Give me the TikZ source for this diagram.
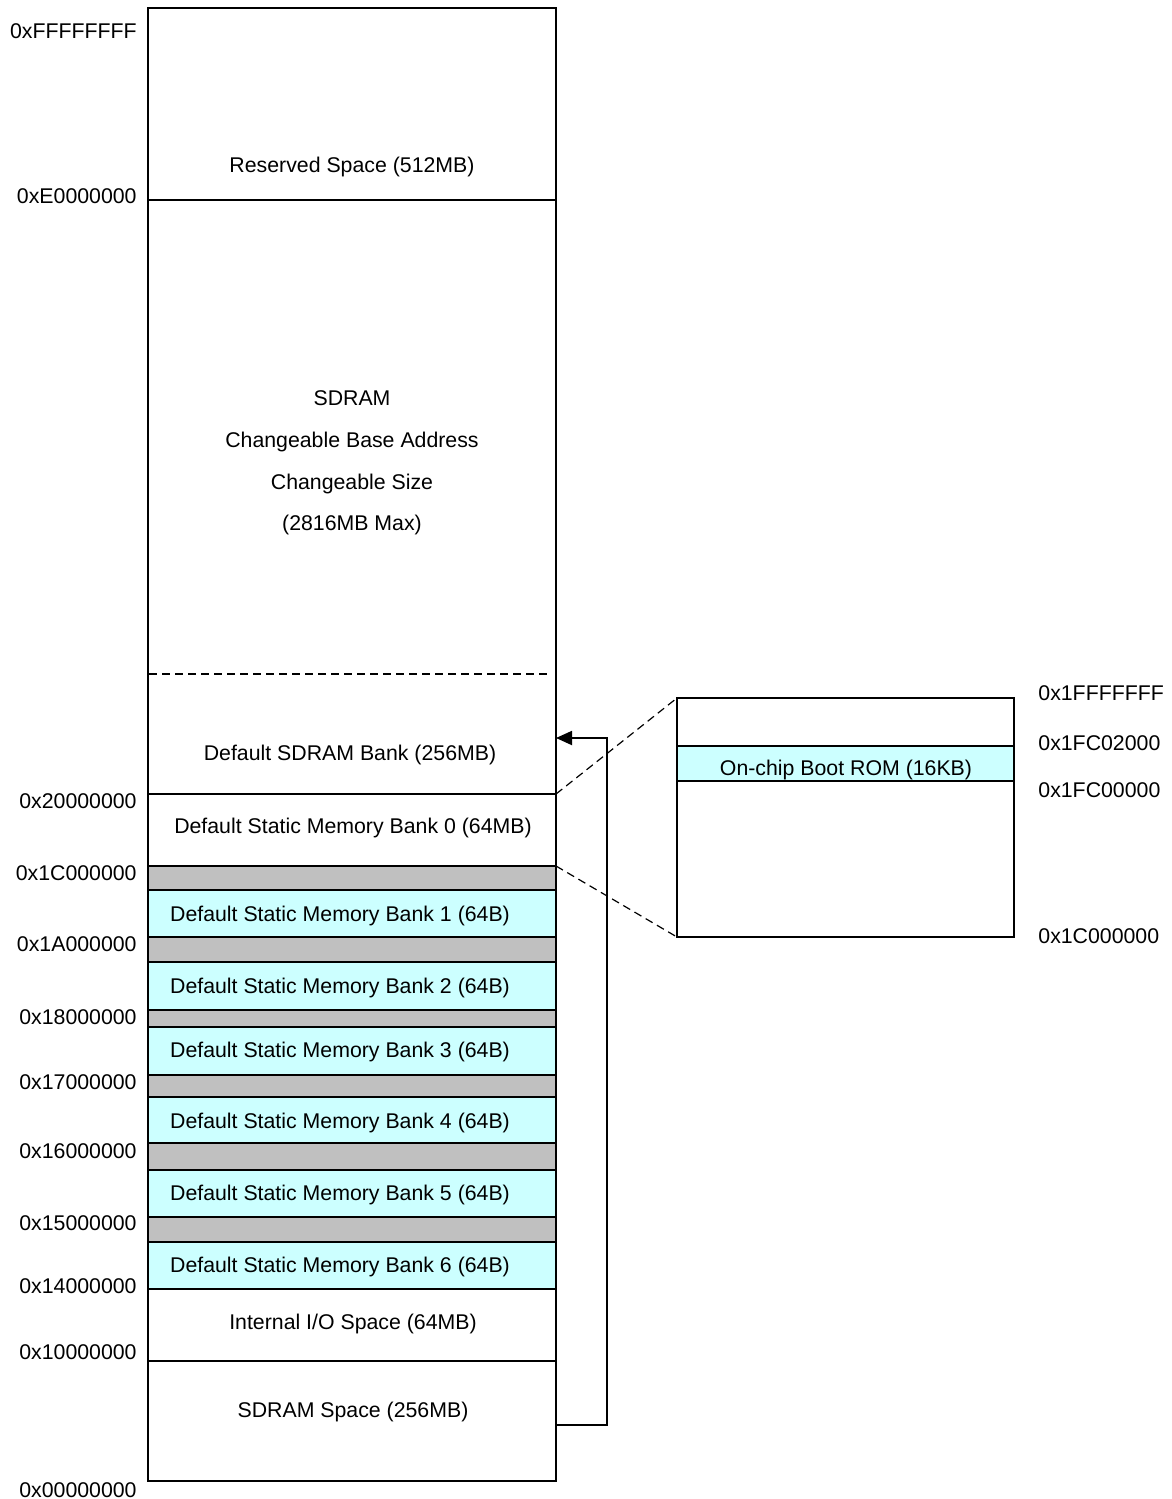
\documentclass[tikz,border=0pt]{standalone}
\usepackage{fontspec}
\setmainfont{Liberation Sans}
\usetikzlibrary{fit,arrows.meta}
\definecolor{bankcyan}{HTML}{CCFFFF}
\definecolor{gapgray}{HTML}{C0C0C0}
\begin{document}
\begin{tikzpicture}[x=0.5pt,y=-0.5pt,
  every node/.style={font=\fontsize{10.65}{12}\selectfont},
  region/.style={draw=black, line width=0.9pt, inner sep=0pt, outer sep=0pt},
  cyanreg/.style={region, fill=bankcyan},
  grayreg/.style={region, fill=gapgray},
  txt/.style={anchor=base, yshift=-3.8pt, inner sep=0pt},
  laddr/.style={anchor=base east, yshift=-3.8pt, inner sep=0pt},
  raddr/.style={anchor=base west, yshift=-3.8pt, inner sep=0pt},
  dsh/.style={dash pattern=on 4pt off 2.5pt, line width=0.6pt}]
\useasboundingbox (0,0) rectangle (1172,1499);
% main column regions
\node[region, fit={(148,8)(556,200)}] (reserved) {};
\node[region, fit={(148,200)(556,794)}] (sdram) {};
\node[region, fit={(148,794)(556,866)}] (bank0) {};
\node[grayreg, fit={(148,866)(556,890)}] (g1) {};
\node[cyanreg, fit={(148,890)(556,937)}] (bank1) {};
\node[grayreg, fit={(148,937)(556,962)}] (g2) {};
\node[cyanreg, fit={(148,962)(556,1010)}] (bank2) {};
\node[grayreg, fit={(148,1010)(556,1027)}] (g3) {};
\node[cyanreg, fit={(148,1027)(556,1075)}] (bank3) {};
\node[grayreg, fit={(148,1075)(556,1097)}] (g4) {};
\node[cyanreg, fit={(148,1097)(556,1143)}] (bank4) {};
\node[grayreg, fit={(148,1143)(556,1170)}] (g5) {};
\node[cyanreg, fit={(148,1170)(556,1217)}] (bank5) {};
\node[grayreg, fit={(148,1217)(556,1242)}] (g6) {};
\node[cyanreg, fit={(148,1242)(556,1289)}] (bank6) {};
\node[region, fit={(148,1289)(556,1361)}] (io) {};
\node[region, fit={(148,1361)(556,1481)}] (sdramsp) {};
% dashed separator inside SDRAM
\coordinate (dl) at (149,674);
\coordinate (dr) at (549,674);
\draw[dsh] (dl) -- (dr);
% texts
\node[txt] (treserved) at (352,165) {Reserved Space (512MB)};
\node[txt] (ts1) at (352,398) {SDRAM};
\node[txt] (ts2) at (352,440) {Changeable Base Address};
\node[txt] (ts3) at (352,482) {Changeable Size};
\node[txt] (ts4) at (352,523) {(2816MB Max)};
\node[txt] (tdef) at (350,753) {Default SDRAM Bank (256MB)};
\node[txt] (tb0) at (353,826) {Default Static Memory Bank 0 (64MB)};
\node[txt] (tb1) at (340,914) {Default Static Memory Bank 1 (64B)};
\node[txt] (tb2) at (340,986) {Default Static Memory Bank 2 (64B)};
\node[txt] (tb3) at (340,1050) {Default Static Memory Bank 3 (64B)};
\node[txt] (tb4) at (340,1121) {Default Static Memory Bank 4 (64B)};
\node[txt] (tb5) at (340,1193) {Default Static Memory Bank 5 (64B)};
\node[txt] (tb6) at (340,1265) {Default Static Memory Bank 6 (64B)};
\node[txt] (tio) at (353,1322) {Internal I/O Space (64MB)};
\node[txt] (tsp) at (353,1410) {SDRAM Space (256MB)};
% left addresses
\node[laddr] (a1) at (137,31) {0xFFFFFFFF};
\node[laddr] (a2) at (137,196) {0xE0000000};
\node[laddr] (a3) at (137,801) {0x20000000};
\node[laddr] (a4) at (137,873) {0x1C000000};
\node[laddr] (a5) at (137,944) {0x1A000000};
\node[laddr] (a6) at (137,1017) {0x18000000};
\node[laddr] (a7) at (137,1082) {0x17000000};
\node[laddr] (a8) at (137,1151) {0x16000000};
\node[laddr] (a9) at (137,1223) {0x15000000};
\node[laddr] (a10) at (137,1286) {0x14000000};
\node[laddr] (a11) at (137,1352) {0x10000000};
\node[laddr] (a12) at (137,1490) {0x00000000};
% zoom box on the right
\node[region, fit={(677,698)(1014,937)}] (zoombox) {};
\node[cyanreg, fit={(677,746)(1014,781)}] (rom) {};
\node[txt] (trom) at (846,768) {On-chip Boot ROM (16KB)};
\node[raddr] (r1) at (1038,693) {0x1FFFFFFF};
\node[raddr] (r2) at (1038,743) {0x1FC02000};
\node[raddr] (r3) at (1038,790) {0x1FC00000};
\node[raddr] (r4) at (1038,936) {0x1C000000};
% dashed zoom lines
\draw[dsh] (bank0.north east) -- (zoombox.north west);
\draw[dsh] (bank0.south east) -- (zoombox.south west);
% arrow from SDRAM space to default SDRAM bank
\coordinate (afrom) at (sdramsp.east |- 0,1425);
\coordinate (ato) at (sdram.east |- 0,738);
\draw[line width=0.9pt, -{Triangle[length=8pt,width=7pt]}]
  (afrom) -- (607,1425) -- (607,738) -- (ato);
\end{tikzpicture}
\end{document}
